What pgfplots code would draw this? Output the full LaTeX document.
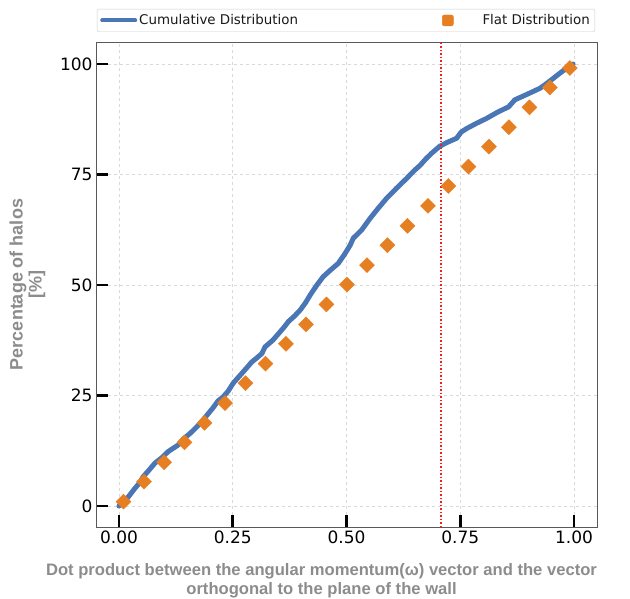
\documentclass[border=0pt]{standalone}
\usepackage{fontspec}
\setmainfont{DejaVu Sans}
\newfontfamily\labfont{Liberation Sans}
\usepackage{pgfplots}
\pgfplotsset{compat=1.18}
\definecolor{cblue}{HTML}{4A76B6}
\definecolor{corange}{HTML}{E67E22}
\definecolor{labgray}{HTML}{8C8C8C}
\pgfplotstableread{
x y
0.000 0.0
0.012 1.2
0.020 2.0
0.035 4.0
0.045 5.2
0.053 6.6
0.065 8.0
0.079 9.7
0.095 11.0
0.108 12.3
0.130 13.8
0.142 15.2
0.156 16.4
0.172 18.0
0.185 19.5
0.205 22.0
0.218 23.8
0.229 24.7
0.240 26.0
0.251 27.8
0.270 30.0
0.292 32.6
0.304 33.6
0.314 34.5
0.321 36.0
0.338 37.5
0.354 39.4
0.364 40.6
0.372 41.7
0.386 43.0
0.398 44.3
0.410 46.0
0.420 47.7
0.435 50.0
0.449 51.9
0.465 53.4
0.482 54.9
0.496 57.0
0.508 59.0
0.515 60.6
0.533 62.4
0.552 65.1
0.570 67.4
0.588 69.6
0.610 71.9
0.632 74.1
0.648 75.8
0.662 77.1
0.675 78.6
0.687 79.8
0.705 81.4
0.722 82.3
0.742 83.2
0.752 84.6
0.764 85.4
0.786 86.6
0.808 87.7
0.832 89.1
0.856 90.3
0.870 91.9
0.898 93.2
0.925 94.5
0.940 95.6
0.955 96.8
0.975 98.4
0.998 100.0
}\cumdata
\pgfplotstableread{
x y
0.010 1.0
0.055 5.5
0.099 9.9
0.144 14.4
0.188 18.8
0.233 23.3
0.278 27.8
0.322 32.2
0.367 36.7
0.411 41.1
0.456 45.6
0.501 50.1
0.545 54.5
0.590 59.0
0.634 63.4
0.679 67.9
0.724 72.4
0.768 76.8
0.813 81.3
0.857 85.7
0.902 90.2
0.947 94.7
0.991 99.1
}\flatdata
\begin{document}
\begin{tikzpicture}
\begin{axis}[
  name=ax,
  scale only axis,
  width=501pt, height=485pt,
  xmin=-0.0505, xmax=1.0505,
  ymin=-4.75, ymax=104.98,
  xtick={0,0.25,0.5,0.75,1},
  xticklabels={0.00,0.25,0.50,0.75,1.00},
  ytick={0,25,50,75,100},
  xtick pos=bottom, ytick pos=left,
  /pgf/number format/assume math mode=true,
  ticklabel style={font=\fontsize{17}{20}\selectfont, text=black},
  xtick align=inside, ytick align=inside,
  major tick length=12pt,
  major tick style={draw=black, line width=2.5pt, solid},
  axis line style={draw=black!65, line width=0.8pt},
  grid=major,
  major grid style={dashed, draw=black!15, line width=0.5pt},
  xlabel={Dot product between the angular momentum(ω) vector and the vector\\orthogonal to the plane of the wall},
  xlabel style={at={(axis description cs:0.5,0)}, anchor=north, yshift=-33pt, xshift=-25pt, align=center, font=\labfont\bfseries\fontsize{16.6}{19}\selectfont, text=labgray},
  ylabel={Percentage of halos\\{[\%]}},
  ylabel style={at={(axis description cs:0,0.5)}, anchor=south, yshift=47pt, align=center, font=\labfont\bfseries\fontsize{18}{19}\selectfont, text=labgray},
  legend columns=2,
  legend style={at={(axis description cs:0,1)}, anchor=south west, xshift=1pt, yshift=10pt,
    draw=black!20, rounded corners=2pt, font=\fontsize{13.4}{16}\selectfont, text=black!90,
    inner xsep=3pt, inner ysep=3.5pt,
    /tikz/column 2/.style={column sep=142pt},
    /tikz/column 3/.style={column sep=27pt}},
  legend cell align=left,
]
\addplot[cblue, line width=5pt, line join=round, line cap=round,
  legend image code/.code={\draw[cblue, line width=4pt] (0pt,0pt) -- (33pt,0pt);}]
  table[x=x,y=y] {\cumdata};
\addlegendentry{Cumulative Distribution}
\addplot[only marks, mark=square*, mark size=5.3pt, color=corange, mark options={rotate=45, draw=none, fill=corange},
  legend image code/.code={\fill[corange] (10pt,-5.5pt) rectangle (21pt,5.5pt);}]
  table[x=x,y=y] {\flatdata};
\addlegendentry{Flat Distribution}
\addplot[red!90!white, line width=1.6pt, dash pattern=on 1.3pt off 2.2pt, forget plot] coordinates {(0.7071,-4.75) (0.7071,104.98)};
\end{axis}
\pgfresetboundingbox
\path ([shift={(-96pt,-71pt)}]ax.south west) rectangle ([shift={(33pt,42pt)}]ax.north east);
\end{tikzpicture}
\end{document}
